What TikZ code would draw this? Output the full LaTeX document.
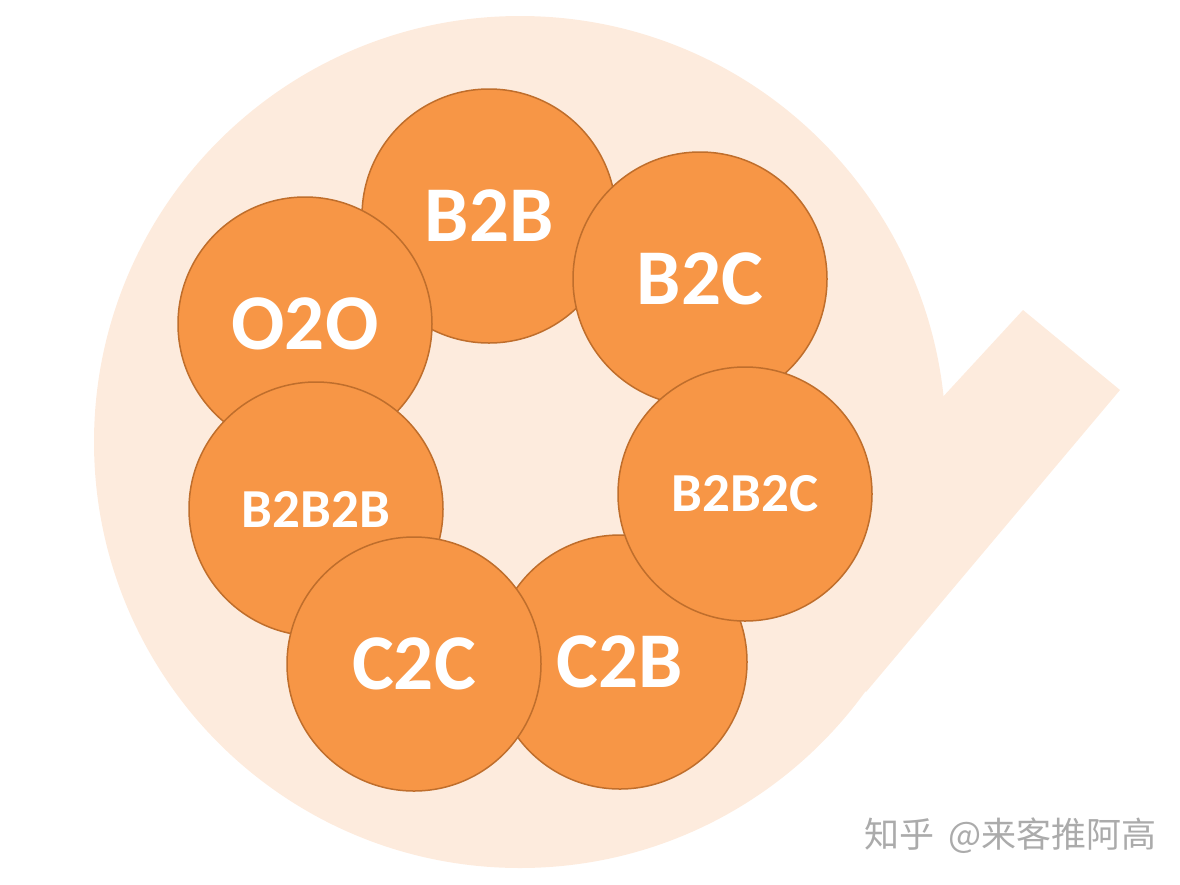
\documentclass[tikz,border=0pt]{standalone}
\usepackage{fontspec}
\setmainfont{Carlito}
\newfontfamily\cjk{Noto Sans CJK SC}
\definecolor{peach}{HTML}{FDEBDD}
\definecolor{bizorange}{HTML}{F79646}
\definecolor{bizedge}{HTML}{BF6E2C}
\definecolor{markgray}{HTML}{ABABAB}

\begin{document}
\begin{tikzpicture}[x=1pt,y=-1pt,
    model/.style={circle,fill=bizorange,draw=bizedge,line width=1.5pt,
      minimum size=254pt,inner sep=0pt,text=white,
      font=\bfseries\fontsize{79}{79}\selectfont},
    smallmodel/.style={model,font=\bfseries\fontsize{55}{55}\selectfont}]
    \useasboundingbox (0,0) rectangle (1180,884);
    % pale round background with its tail
    \fill[peach] (520,442) circle (426pt);
    \fill[peach] (940,400) -- (1023,310) -- (1120,390) -- (866,692) -- (700,500) -- cycle;
    % the models, lower ones first
    \node[model] (b2b) at (489,216) {B2B};
    \node[model] (o2o) at (305,324) {O2O};
    \node[smallmodel] (b2b2b) at (316,509) {B2B2B};
    \node[model] (c2b) at (620,662) {C2B};
    \node[model] (c2c) at (414,664) {C2C};
    \node[model] (b2c) at (700,279) {B2C};
    \node[smallmodel] (b2b2c) at (745,494) {B2B2C};
    % watermark
    \node[anchor=west,inner sep=0pt,text=markgray,font=\cjk\fontsize{35}{35}\selectfont] (mark) at (864,836) {知乎\hspace{6pt} @来客推阿高};
\end{tikzpicture}
\end{document}
